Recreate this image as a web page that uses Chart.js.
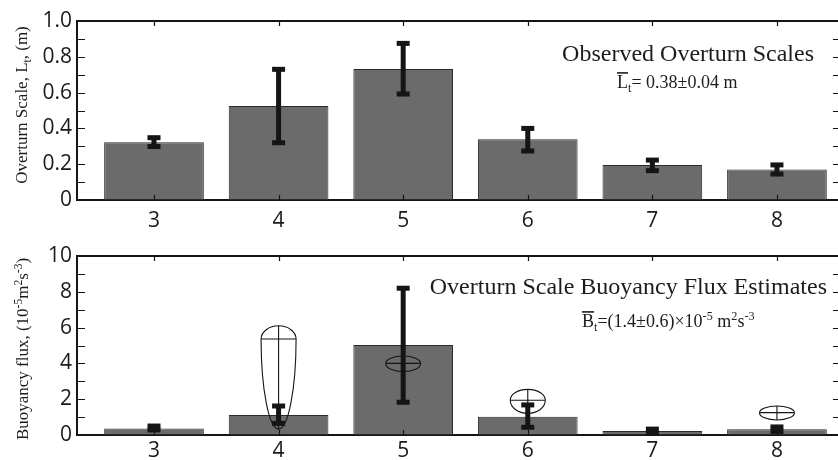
<!DOCTYPE html>
<html>
<head>
<meta charset="utf-8">
<script src="https://cdn.jsdelivr.net/npm/chart.js@4.4.1/dist/chart.umd.min.js"></script>
<style>
  html, body { margin: 0; padding: 0; background: #fff; overflow: hidden; }
  canvas { display: block; }
</style>
</head>
<body>
<canvas id="scaleChart" width="838" height="230"></canvas>
<canvas id="fluxChart" width="838" height="230"></canvas>
<script>
// runs (x categories)
const runs = [3, 4, 5, 6, 7, 8];

// top panel: observed overturn scale L_t (m)
const scaleMean = [0.322, 0.525, 0.732, 0.339, 0.196, 0.171];
const scaleLow  = [0.299, 0.320, 0.592, 0.274, 0.164, 0.145];
const scaleHigh = [0.348, 0.730, 0.875, 0.400, 0.223, 0.196];
const scaleTicks = [0, 0.2, 0.4, 0.6, 0.8, 1.0];
const scaleTickLabels = ['0', '0.2', '0.4', '0.6', '0.8', '1.0'];

// bottom panel: buoyancy flux (1e-5 m^2 s^-3)
const fluxMean = [0.37, 1.12, 5.03, 1.02, 0.22, 0.32];
const fluxLow  = [0.28, 0.65, 1.83, 0.43, 0.10, 0.20];
const fluxHigh = [0.50, 1.62, 8.20, 1.68, 0.33, 0.45];
const fluxTicks = [0, 2, 4, 6, 8, 10];
const fluxTickLabels = ['0', '2', '4', '6', '8', '10'];

// outlined estimates drawn over the flux bars (null = none)
const ellCentre = [null, 5.36, 4.00, 1.94, null, 1.25];
const ellTop    = [null, 6.10, 4.41, 2.55, null, 1.62];
const ellBottom = [null, 0.33, 3.54, 1.21, null, 0.84];

const SERIF = '"Liberation Serif", "Times New Roman", serif';
const SANS = '"Open Sans", "DejaVu Sans", sans-serif';
const INK = '#151515';

// draw text made of parts: {t, mode: 'sub' | 'sup' | 'over'}
function richWidth(ctx, parts, size) {
  let w = 0;
  parts.forEach(p => {
    const s = (p.mode === 'sub' || p.mode === 'sup') ? size * 0.68 : size;
    ctx.font = s + 'px ' + SERIF;
    w += ctx.measureText(p.t).width;
  });
  return w;
}

function drawRich(ctx, x, y, parts, size) {
  let cx = x;
  ctx.textBaseline = 'alphabetic';
  ctx.textAlign = 'left';
  parts.forEach(p => {
    let s = size, dy = 0;
    if (p.mode === 'sub') { s = size * 0.68; dy = size * 0.22; }
    if (p.mode === 'sup') { s = size * 0.68; dy = -size * 0.38; }
    ctx.font = s + 'px ' + SERIF;
    ctx.fillText(p.t, cx, y + dy);
    const w = ctx.measureText(p.t).width;
    if (p.mode === 'over') {
      ctx.fillRect(cx, y - size * 0.66 - 4, w, 1.6);
    }
    cx += w;
  });
}

const decor = {
  id: 'decor',
  afterDatasetsDraw(chart, args, opts) {
    const ctx = chart.ctx;
    const xs = chart.scales.x, ys = chart.scales.y;
    const a = chart.chartArea;
    ctx.save();

    // outlined estimates
    if (opts.centre) {
      ctx.strokeStyle = INK;
      ctx.lineWidth = 1.1;
      const hw = 17.5;
      runs.forEach((r, i) => {
        if (opts.centre[i] == null) return;
        const px = xs.getPixelForValue(r);
        const pc = ys.getPixelForValue(opts.centre[i]);
        const pt = ys.getPixelForValue(opts.top[i]);
        const pb = ys.getPixelForValue(opts.bottom[i]);
        ctx.beginPath();
        ctx.ellipse(px, pc, hw, pc - pt, 0, Math.PI, 2 * Math.PI);
        ctx.stroke();
        ctx.beginPath();
        ctx.ellipse(px, pc, hw, pb - pc, 0, 0, Math.PI);
        ctx.stroke();
        ctx.beginPath();
        ctx.moveTo(px - hw, pc); ctx.lineTo(px + hw, pc);
        ctx.moveTo(px, pt); ctx.lineTo(px, pb);
        ctx.stroke();
      });
    }

    // error bars
    ctx.fillStyle = INK;
    runs.forEach((r, i) => {
      const px = xs.getPixelForValue(r);
      const lo = ys.getPixelForValue(opts.low[i]);
      const hi = ys.getPixelForValue(opts.high[i]);
      ctx.fillRect(px - 2.5, hi, 5, lo - hi);
      ctx.fillRect(px - 6.5, hi - 2.5, 13, 5);
      ctx.fillRect(px - 6.5, lo - 2.5, 13, 5);
    });

    // frame: top line and inward ticks
    ctx.strokeStyle = INK;
    ctx.lineWidth = 2;
    ctx.beginPath();
    ctx.moveTo(a.left - 1, a.top); ctx.lineTo(a.right, a.top);
    ctx.stroke();
    ctx.lineWidth = 1.2;
    ctx.beginPath();
    for (let v = ys.min; v <= ys.max + 1e-9; v += opts.minorStep) {
      const py = Math.round(ys.getPixelForValue(v)) + 0.5;
      ctx.moveTo(a.left, py); ctx.lineTo(a.left + 8, py);
      ctx.moveTo(a.right - 5, py); ctx.lineTo(a.right, py);
    }
    runs.forEach(r => {
      const px = Math.round(xs.getPixelForValue(r)) + 0.5;
      ctx.moveTo(px, a.top); ctx.lineTo(px, a.top + 5);
      ctx.moveTo(px, a.bottom); ctx.lineTo(px, a.bottom - 5);
    });
    ctx.stroke();

    // labels
    ctx.fillStyle = '#1c1c1c';
    ctx.font = '24px ' + SERIF;
    ctx.textAlign = 'right';
    ctx.textBaseline = 'alphabetic';
    ctx.fillText(opts.title, opts.titleX, opts.titleY);
    drawRich(ctx, opts.noteX, opts.noteY, opts.note, 18);

    const tw = richWidth(ctx, opts.axisTitle, 17);
    ctx.save();
    ctx.translate(opts.axisX, opts.axisY);
    ctx.rotate(-Math.PI / 2);
    drawRich(ctx, -tw / 2, 0, opts.axisTitle, 17);
    ctx.restore();

    ctx.restore();
  }
};

function makeChart(id, mean, low, high, ticks, tickLabels, yMax, padTop, xHeight, xPad, extra) {
  return new Chart(document.getElementById(id), {
    type: 'bar',
    data: {
      datasets: [{
        data: runs.map((r, i) => ({ x: r, y: mean[i] })),
        backgroundColor: '#6b6b6b',
        borderColor: '#2a2a2a',
        borderWidth: 1,
        borderSkipped: false,
        categoryPercentage: 0.8,
        barPercentage: 1.0
      }]
    },
    options: {
      responsive: false,
      animation: false,
      layout: { padding: { top: padTop, left: 0, right: 0, bottom: 0 } },
      plugins: {
        legend: { display: false },
        tooltip: { enabled: false },
        decor: Object.assign({ low: low, high: high }, extra)
      },
      scales: {
        x: {
          type: 'linear',
          min: 2.382,
          max: 8.49,
          offset: false,
          grid: { display: false, drawTicks: false, offset: false },
          border: { display: true, color: INK, width: 2 },
          afterBuildTicks: s => { s.ticks = runs.map(v => ({ value: v })); },
          afterFit: s => { s.height = xHeight; },
          ticks: {
            font: { family: SANS, size: 21 },
            color: '#1a1a1a',
            padding: xPad,
            maxRotation: 0,
            callback: v => String(v)
          }
        },
        y: {
          min: 0,
          max: yMax,
          grid: { display: false, drawTicks: false },
          border: { display: true, color: INK, width: 2 },
          afterBuildTicks: s => { s.ticks = ticks.map(v => ({ value: v })); },
          afterFit: s => { s.width = 77; },
          ticks: {
            font: { family: SANS, size: 21 },
            color: '#1a1a1a',
            padding: 5,
            callback: (v, i) => tickLabels[i]
          }
        }
      }
    },
    plugins: [decor]
  });
}

makeChart('scaleChart', scaleMean, scaleLow, scaleHigh, scaleTicks, scaleTickLabels, 1, 21, 30, 8, {
  minorStep: 0.1,
  title: 'Observed Overturn Scales', titleX: 814, titleY: 61,
  note: [{ t: 'L', mode: 'over' }, { t: 't', mode: 'sub' }, { t: '= 0.38\u00b10.04 m' }],
  noteX: 617, noteY: 88,
  axisTitle: [{ t: 'Overturn Scale, L' }, { t: 't', mode: 'sub' }, { t: ', (m)' }],
  axisX: 27, axisY: 105
});

makeChart('fluxChart', fluxMean, fluxLow, fluxHigh, fluxTicks, fluxTickLabels, 10, 26, 25, 3, {
  minorStep: 1,
  centre: ellCentre, top: ellTop, bottom: ellBottom,
  title: 'Overturn Scale Buoyancy Flux Estimates', titleX: 827, titleY: 64,
  note: [{ t: 'B', mode: 'over' }, { t: 't', mode: 'sub' }, { t: '=(1.4\u00b10.6)\u00d710' }, { t: '-5', mode: 'sup' },
         { t: ' m' }, { t: '2', mode: 'sup' }, { t: 's' }, { t: '-3', mode: 'sup' }],
  noteX: 582, noteY: 97,
  axisTitle: [{ t: 'Buoyancy flux, (10' }, { t: '-5', mode: 'sup' }, { t: 'm' }, { t: '2', mode: 'sup' },
              { t: 's' }, { t: '-3', mode: 'sup' }, { t: ')' }],
  axisX: 28, axisY: 119
});
</script>
</body>
</html>
